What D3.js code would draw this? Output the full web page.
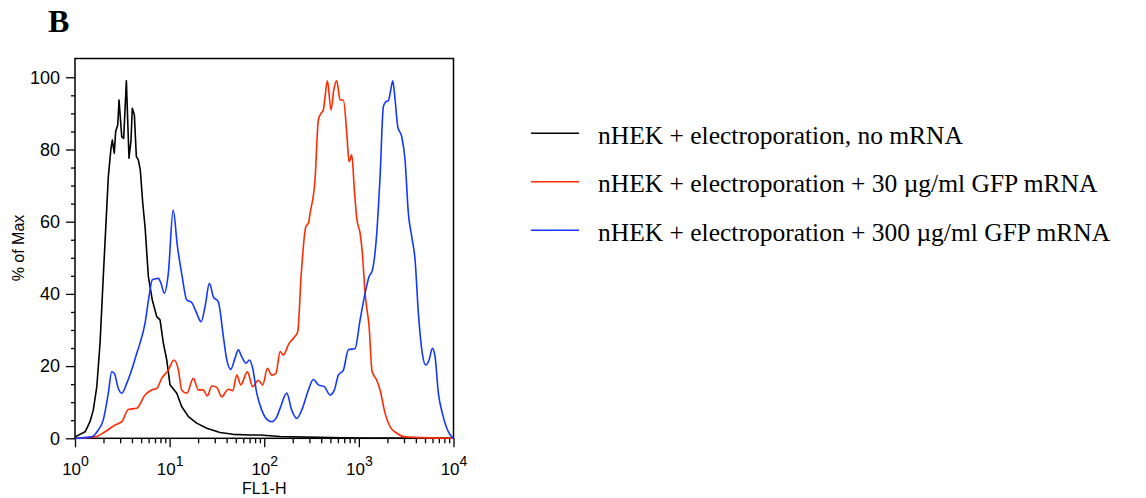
<!DOCTYPE html>
<html>
<head>
<meta charset="utf-8">
<script src="https://cdn.jsdelivr.net/npm/d3@7"></script>
<style>
    body { margin: 0; background: #fff; }
</style>
</head>
<body>
<svg id="chart" width="1146" height="498"></svg>
<script>
// FL1-H values and % of Max
const fl1NoMrna = [1.0, 1.28, 1.44, 1.56, 1.70, 1.84, 1.99, 2.16, 2.25, 2.40, 2.48, 2.60, 2.69, 2.83, 2.92, 3.12, 3.27, 3.49, 3.72, 3.91, 4.03, 4.24, 4.45, 4.67, 4.90, 5.20, 5.50, 5.96, 6.56, 7.31, 7.92, 8.58, 9.32, 10.1, 11.9, 13.4, 15.8, 19.3, 24.7, 34.1, 46.8, 70.8, 90.3, 147, 500, 1000, 10000];
const pctNoMrna = [0.4, 1.8, 4.6, 7.8, 14.3, 26.4, 44.8, 63.2, 72.5, 80.3, 82.6, 79, 85, 86.8, 93.7, 83.5, 83.1, 99, 77.6, 82.6, 91.4, 89.6, 78, 77.1, 74.3, 65.1, 58.6, 44.8, 38.3, 33.7, 32.8, 26.4, 21.7, 14.8, 12.5, 8.8, 6, 4.2, 2.8, 1.6, 1.1, 0.9, 0.9, 0.5, 0.2, 0.1, 0];

const fl1Low = [1.0, 1.63, 2.08, 2.65, 3.12, 3.66, 4.49, 5.50, 6.47, 7.31, 8.25, 9.69, 11.1, 12.4, 13.4, 15.2, 17.8, 20.1, 22.7, 25.0, 27.9, 31.5, 35.5, 41.7, 46.5, 51.2, 56.5, 66.3, 75.5, 86.6, 96.4, 108, 120, 133, 147, 159, 183, 203, 226, 245, 275, 293, 305, 344, 373, 398, 421, 439, 465, 508, 543, 584, 633, 686, 745, 788, 841, 896, 950, 1030, 1089, 1164, 1283, 1380, 1545, 1675, 1892, 2137, 2517, 3076, 10000];
const pctLow = [0, 0.4, 1.8, 3.7, 4.6, 8.0, 8.3, 12, 13.4, 13.8, 16.6, 18.9, 21.7, 18.9, 13.4, 12.5, 16.6, 13.4, 13.4, 11.7, 14.5, 14.1, 11.5, 13.6, 13.2, 17.5, 14.8, 18.4, 14.3, 16.1, 14.8, 19.4, 17.5, 18, 24, 23.1, 26.3, 27.7, 29.5, 44.8, 58.6, 59.6, 62.3, 71.6, 88.2, 90, 90.9, 94.6, 99, 90.9, 96.5, 99, 93.7, 93.7, 84.5, 76.6, 78.5, 68.8, 60.9, 56.8, 51.2, 40, 30.9, 18.5, 16.1, 13.4, 6.9, 3.2, 1.4, 0.4, 0];

const fl1High = [1.0, 1.50, 1.76, 1.99, 2.25, 2.44, 2.60, 2.87, 3.12, 3.52, 3.97, 4.49, 4.86, 5.50, 6.05, 6.56, 7.60, 8.11, 8.79, 9.69, 10.9, 12.1, 13.4, 15.2, 17.1, 19.0, 21.5, 23.7, 26.3, 29.0, 32.7, 37.0, 40.2, 44.3, 49.1, 53.2, 57.8, 64.2, 69.6, 75.5, 83.3, 94.1, 106, 120, 136, 147, 173, 195, 221, 249, 293, 330, 373, 432, 496, 551, 607, 686, 774, 912, 1030, 1164, 1283, 1390, 1545, 1675, 1815, 1923, 2051, 2173, 2281, 2415, 2577, 2838, 3076, 3334, 3624, 3927, 4256, 4624, 5095, 5521, 5984, 6385, 6920, 7630, 8492, 9594, 10000];
const pctHigh = [0, 0.4, 2.3, 5.1, 12.5, 18.4, 18, 13.8, 12.5, 15.2, 18.9, 23.5, 26.3, 31.9, 39.2, 43.9, 44.3, 42.9, 40.2, 45.7, 63.2, 53.1, 45.7, 38.3, 37.6, 35.1, 32.3, 36.5, 42.9, 39.2, 37.8, 28.1, 21.7, 19.1, 22.2, 24.5, 22.6, 20.8, 21.7, 19.4, 12.5, 7.8, 5.3, 4.6, 6, 8.3, 12.5, 7.8, 5.5, 7.8, 13.4, 16.3, 14.8, 14.3, 12, 13.4, 17.5, 18.9, 24.5, 24.9, 32.8, 40.2, 44.8, 46.6, 56.8, 72.5, 91.9, 93.2, 93.5, 96.5, 99, 93.7, 86.3, 83.5, 77.1, 62.3, 55.8, 49.4, 34.6, 24.5, 20.3, 21.7, 24.9, 22.6, 12.5, 6.9, 2.8, 0.4, 0];

const seriesNames = [
    "nHEK + electroporation, no mRNA",
    "nHEK + electroporation + 30 µg/ml GFP mRNA",
    "nHEK + electroporation + 300 µg/ml GFP mRNA"
];
const xTicks = [1, 10, 100, 1000, 10000];
const xTickExponents = ["0", "1", "2", "3", "4"];
const yTicks = [0, 20, 40, 60, 80, 100];

const colors = ["#000000", "#ff2a00", "#1438ff"];
const sans = "'Liberation Sans', Arial, sans-serif";
const serif = "'Liberation Serif', 'Times New Roman', serif";

let svg = d3.select("#chart");

let x = d3.scaleLog().domain([1, 10000]).range([75, 453.5]);
let y = d3.scaleLinear().domain([0, 105.2]).range([438.3, 58.5]);

let xMinor = [];
for (let d = 1; d < 10000; d *= 10) {
    for (let k = 2; k < 10; k++) xMinor.push(d * k);
}
let yMinor = d3.range(0, 101, 5).filter(v => v % 20 != 0);

function style_axis(g) {
    g.select(".domain").remove();
    g.selectAll(".tick line").attr("stroke", "#000").attr("stroke-width", 1.3);
}

// x axis
svg.append("g")
    .attr("transform", "translate(0,438.3)")
    .call(d3.axisBottom(x).tickValues(xMinor).tickSize(5).tickFormat(""))
    .call(style_axis);

let gx = svg.append("g")
    .attr("transform", "translate(0,438.3)")
    .call(d3.axisBottom(x).tickValues(xTicks).tickSize(9).tickFormat(""))
    .call(style_axis);

gx.selectAll(".tick text")
    .attr("y", 36.7)
    .attr("dy", null)
    .attr("fill", "#000")
    .attr("font-family", sans)
    .attr("font-size", 17)
    .each(function (d, i) {
        let t = d3.select(this);
        t.append("tspan").text("10");
        t.append("tspan").attr("dy", -8.5).attr("font-size", 14).text(xTickExponents[i]);
    });

// y axis
svg.append("g")
    .attr("transform", "translate(75,0)")
    .call(d3.axisLeft(y).tickValues(yMinor).tickSize(4).tickFormat(""))
    .call(style_axis);

svg.append("g")
    .attr("transform", "translate(75,0)")
    .call(d3.axisLeft(y).tickValues(yTicks).tickSize(9).tickPadding(6))
    .call(style_axis)
    .selectAll(".tick text")
    .attr("fill", "#000")
    .attr("font-family", sans)
    .attr("font-size", 18);

// frame
svg.append("rect")
    .attr("x", x(1))
    .attr("y", y(105.2))
    .attr("width", x(10000) - x(1))
    .attr("height", y(0) - y(105.2))
    .attr("fill", "none")
    .attr("stroke", "#000")
    .attr("stroke-width", 1.5);

// curves
let series = [
    d3.zip(fl1NoMrna, pctNoMrna),
    d3.zip(fl1Low, pctLow),
    d3.zip(fl1High, pctHigh)
];

for (let i = 0; i < series.length; i++) {
    let line = d3.line()
        .x(d => x(d[0]))
        .y(d => y(d[1]))
        .curve(i == 0 ? d3.curveLinear : d3.curveMonotoneX);
    svg.append("path")
        .attr("d", line(series[i]))
        .attr("fill", "none")
        .attr("stroke", colors[i])
        .attr("stroke-width", 1.6)
        .attr("stroke-linejoin", "round");
}

// labels
svg.append("text")
    .attr("x", 48).attr("y", 32)
    .attr("font-family", serif)
    .attr("font-weight", "bold")
    .attr("font-size", 32)
    .text("B");

svg.append("text")
    .attr("transform", "translate(24,248) rotate(-90)")
    .attr("text-anchor", "middle")
    .attr("font-family", sans)
    .attr("font-size", 16)
    .text("% of Max");

svg.append("text")
    .attr("x", (x(1) + x(10000)) / 2).attr("y", 494)
    .attr("text-anchor", "middle")
    .attr("font-family", sans)
    .attr("font-size", 16)
    .text("FL1-H");

// legend
let legend = svg.append("g");
seriesNames.forEach((name, i) => {
    let ly = 133.3 + i * 48.5;
    legend.append("line")
        .attr("x1", 531).attr("x2", 579)
        .attr("y1", ly).attr("y2", ly)
        .attr("stroke", colors[i])
        .attr("stroke-width", 1.6);
    legend.append("text")
        .attr("x", 598).attr("y", ly + 10.5)
        .attr("font-family", serif)
        .attr("font-size", 25.5)
        .text(name);
});
</script>
</body>
</html>
